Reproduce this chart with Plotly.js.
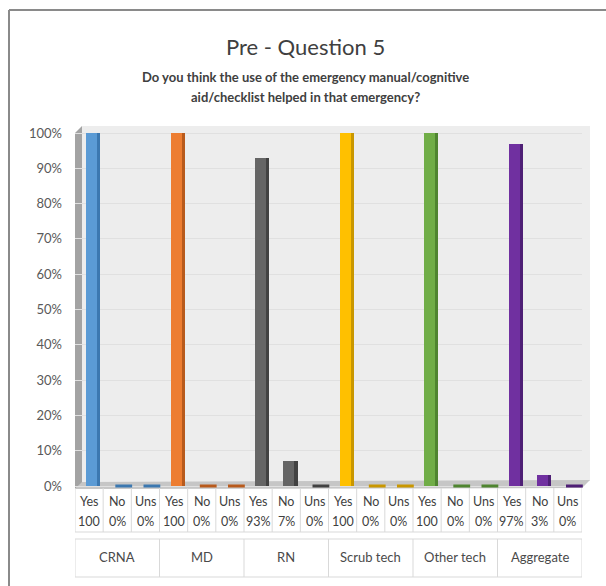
<!DOCTYPE html>
<html>
<head>
<meta charset="utf-8">
<script src="https://cdn.plot.ly/plotly-3.0.1.min.js"></script>
<style>html,body{margin:0;padding:0;background:#fff;}#chart{width:606px;height:586px;}</style>
</head>
<body>
<div id="chart"></div>
<script>
// ---- data ----
const groups = ['CRNA', 'MD', 'RN', 'Scrub tech', 'Other tech', 'Aggregate'];
const answers = ['Yes', 'No', 'Uns'];
const crna = [100, 0, 0];
const md = [100, 0, 0];
const rn = [93, 7, 0];
const scrubTech = [100, 0, 0];
const otherTech = [100, 0, 0];
const aggregate = [97, 3, 0];
const yTickVals = [0, 0.1, 0.2, 0.3, 0.4, 0.5, 0.6, 0.7, 0.8, 0.9, 1.0];
const groupColors = ['#5B9BD5', '#ED7D31', '#656565', '#FFC000', '#70AD47', '#7030A0'];
const sideColors = ['#3C78B0', '#B85A1C', '#424242', '#C99700', '#4F8530', '#4E1F75'];

const groupValues = [crna, md, rn, scrubTech, otherTech, aggregate];

// flatten
const xIdx = [], yVal = [], cats = [], front = [], side = [], valTxt = [];
groupValues.forEach((vals, g) => {
  vals.forEach((v, a) => {
    xIdx.push(g * 3 + a);
    yVal.push(v / 100);
    cats.push(answers[a]);
    front.push(groupColors[g]);
    side.push(sideColors[g]);
    valTxt.push(v === 100 ? '100' : v + '%');
  });
});
const zeroX = [], zeroY = [], zeroC = [];
xIdx.forEach((x, i) => { if (yVal[i] === 0) { zeroX.push(x + 0.23); zeroY.push(yVal[i]); zeroC.push(side[i]); } });

const W = 606, H = 586;
const px = x => x / W;
const py = y => 1 - y / H;
const FONT = 'Lato, "Open Sans", sans-serif';
const TXT = '#404040';

const traces = [
  { type: 'bar', x: xIdx, y: yVal, width: 0.39, offset: -0.1,
    marker: { color: front, line: { width: 0 } }, hoverinfo: 'skip', showlegend: false },
  { type: 'bar', x: xIdx, y: yVal, width: 0.11, offset: 0.29,
    marker: { color: side, line: { width: 0 } }, hoverinfo: 'skip', showlegend: false },
  { type: 'scatter', mode: 'markers', x: zeroX, y: zeroY,
    marker: { symbol: 'line-ew', size: 12, line: { width: 3, color: zeroC } },
    hoverinfo: 'skip', showlegend: false, cliponaxis: false }
];

const shapes = [];
// back wall
shapes.push({ type: 'path', xref: 'paper', yref: 'paper', layer: 'below',
  path: `M${px(82)},${py(126)} L${px(590)},${py(126)} L${px(590)},${py(481)} L${px(82)},${py(483)} Z`,
  fillcolor: '#ededed', line: { width: 0 } });
// left side wall
shapes.push({ type: 'path', xref: 'paper', yref: 'paper', layer: 'below',
  path: `M${px(75)},${py(133)} L${px(82)},${py(126)} L${px(82)},${py(483)} L${px(75)},${py(489)} Z`,
  fillcolor: '#a3a3a3', line: { width: 0 } });
// floor
shapes.push({ type: 'path', xref: 'paper', yref: 'paper', layer: 'below',
  path: `M${px(75)},${py(489)} L${px(82)},${py(482)} L${px(590)},${py(480)} L${px(582)},${py(488)} Z`,
  fillcolor: '#c6c6c6', line: { width: 0 } });
// outer frame (left + top visible)
shapes.push({ type: 'line', xref: 'paper', yref: 'paper', x0: px(9), x1: px(9), y0: py(10), y1: py(590),
  line: { color: '#8a8a8a', width: 2 } });
shapes.push({ type: 'line', xref: 'paper', yref: 'paper', x0: px(9), x1: px(610), y0: py(10), y1: py(10),
  line: { color: '#8a8a8a', width: 2 } });

const gridC = '#d9d9d9';
// table rows 1-2
for (let i = 0; i <= xIdx.length; i++) {
  shapes.push({ type: 'line', xref: 'x', yref: 'paper', x0: i - 0.5, x1: i - 0.5, y0: py(488), y1: py(532),
    line: { color: gridC, width: 1 } });
}
shapes.push({ type: 'line', xref: 'x', yref: 'paper', x0: -0.5, x1: xIdx.length - 0.5, y0: py(532), y1: py(532),
  line: { color: gridC, width: 1 } });
// group row
shapes.push({ type: 'rect', xref: 'x', yref: 'paper', x0: -0.5, x1: xIdx.length - 0.5, y0: py(539), y1: py(577),
  line: { color: gridC, width: 1 }, fillcolor: 'rgba(0,0,0,0)' });
for (let g = 1; g < groups.length; g++) {
  shapes.push({ type: 'line', xref: 'x', yref: 'paper', x0: g * 3 - 0.5, x1: g * 3 - 0.5, y0: py(539), y1: py(577),
    line: { color: gridC, width: 1 } });
}

const annotations = [];
xIdx.forEach((x, i) => {
  annotations.push({ xref: 'x', yref: 'paper', x: x, y: py(501), text: cats[i], showarrow: false,
    font: { family: FONT, size: 12.5, color: TXT }, xanchor: 'center', yanchor: 'middle' });
  annotations.push({ xref: 'x', yref: 'paper', x: x, y: py(521), text: valTxt[i], showarrow: false,
    font: { family: FONT, size: 12.5, color: TXT }, xanchor: 'center', yanchor: 'middle' });
});
groups.forEach((g, k) => {
  annotations.push({ xref: 'x', yref: 'paper', x: k * 3 + 1, y: py(557), text: g, showarrow: false,
    font: { family: FONT, size: 13, color: '#4a4a4a' }, xanchor: 'center', yanchor: 'middle' });
});
// titles
annotations.push({ xref: 'paper', yref: 'paper', x: px(305), y: py(46), text: 'Pre - Question 5', showarrow: false,
  font: { family: FONT, size: 22, color: TXT }, xanchor: 'center', yanchor: 'middle' });
annotations.push({ xref: 'paper', yref: 'paper', x: px(305), y: py(77), text: 'Do you think the use of the emergency manual/cognitive', showarrow: false,
  font: { family: FONT, size: 13, color: TXT, weight: 'bold' }, xanchor: 'center', yanchor: 'middle' });
annotations.push({ xref: 'paper', yref: 'paper', x: px(305), y: py(97), text: 'aid/checklist helped in that emergency?', showarrow: false,
  font: { family: FONT, size: 13, color: TXT, weight: 'bold' }, xanchor: 'center', yanchor: 'middle' });

const layout = {
  width: W, height: H,
  margin: { l: 0, r: 0, t: 0, b: 0 },
  paper_bgcolor: '#ffffff', plot_bgcolor: 'rgba(0,0,0,0)',
  showlegend: false, bargap: 0,
  xaxis: { domain: [px(75), px(582)], range: [-0.5, xIdx.length - 0.5], showticklabels: false,
    showgrid: false, zeroline: false, showline: false, ticks: '', fixedrange: true },
  yaxis: { domain: [py(492), py(120)], range: [-(492 - 486) / 353, 1 + (133 - 120) / 353],
    tickvals: yTickVals, tickformat: '.0%', showgrid: true, gridcolor: '#e0e0e0', gridwidth: 1,
    zeroline: false, showline: false, ticks: '', ticklabelstandoff: 12,
    tickfont: { family: FONT, size: 13, color: '#595959' }, fixedrange: true },
  shapes: shapes,
  annotations: annotations,
  font: { family: FONT }
};

Plotly.newPlot('chart', traces, layout, { displayModeBar: false, staticPlot: true });
</script>
</body>
</html>
